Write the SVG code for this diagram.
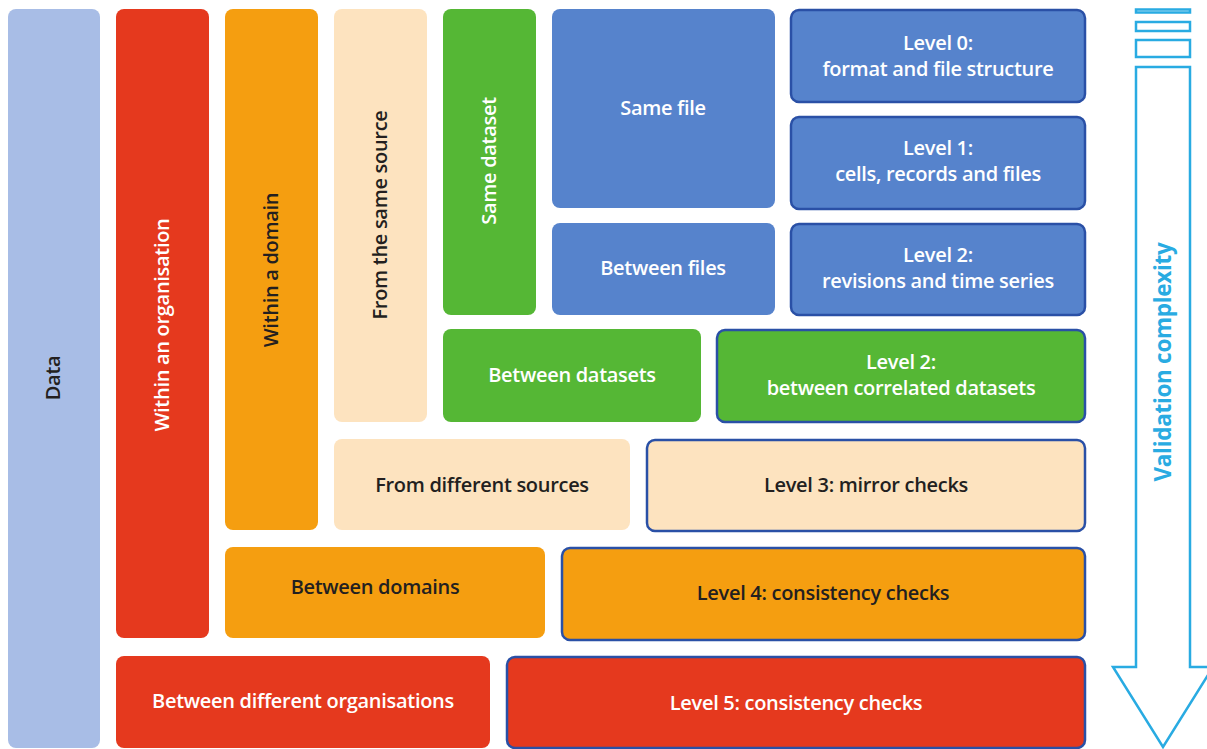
<svg xmlns="http://www.w3.org/2000/svg" width="1207" height="749" viewBox="0 0 1207 749">
<style>
.n{rx:8px;ry:8px}
.lvl{stroke:#2a50a6;stroke-width:2.5}
.data{fill:#a8bde6}.red{fill:#e5391e}.org{fill:#f59e10}.peach{fill:#fde3bf}.grn{fill:#55b735}.blu{fill:#5683cc}
text{font-family:"Open Sans","Noto Sans","Liberation Sans",sans-serif;font-weight:600;font-size:20px;text-anchor:middle;letter-spacing:-0.3px}
.w{fill:#ffffff}.d{fill:#231f20}
.vc{fill:#29abe2;font-size:22.5px;font-weight:700}
</style>
<g id="data"><rect class="n data" x="8" y="9" width="92" height="739"/><text class="d" transform="translate(60,378) rotate(-90)">Data</text></g>
<g id="within-org"><rect class="n red" x="116" y="9" width="93" height="629"/><text class="w" transform="translate(169,325) rotate(-90)">Within an organisation</text></g>
<g id="within-domain"><rect class="n org" x="225" y="9" width="93" height="521"/><text class="d" transform="translate(278,270) rotate(-90)">Within a domain</text></g>
<g id="same-source"><rect class="n peach" x="334" y="9" width="93" height="413"/><text class="d" transform="translate(387,215) rotate(-90)">From the same source</text></g>
<g id="same-dataset"><rect class="n grn" x="443" y="9" width="93" height="306"/><text class="w" transform="translate(496,161) rotate(-90)">Same dataset</text></g>
<g id="same-file"><rect class="n blu" x="552" y="9" width="223" height="199"/><text class="w" x="663" y="115">Same file</text></g>
<g id="between-files"><rect class="n blu" x="552" y="223" width="223" height="92"/><text class="w" x="663" y="275">Between files</text></g>
<g id="level0"><rect class="n blu lvl" x="791" y="10" width="294" height="92"/><text class="w" x="938" y="50">Level 0:</text><text class="w" x="938" y="76">format and file structure</text></g>
<g id="level1"><rect class="n blu lvl" x="791" y="117" width="294" height="92"/><text class="w" x="938" y="155">Level 1:</text><text class="w" x="938" y="181">cells, records and files</text></g>
<g id="level2"><rect class="n blu lvl" x="791" y="224" width="294" height="91"/><text class="w" x="938" y="262">Level 2:</text><text class="w" x="938" y="288">revisions and time series</text></g>
<g id="between-datasets"><rect class="n grn" x="443" y="329" width="258" height="93"/><text class="w" x="572" y="382">Between datasets</text></g>
<g id="level2-corr"><rect class="n grn lvl" x="717" y="330" width="368" height="92"/><text class="w" x="901" y="369">Level 2:</text><text class="w" x="901" y="395">between correlated datasets</text></g>
<g id="diff-sources"><rect class="n peach" x="334" y="439" width="296" height="91"/><text class="d" x="482" y="492">From different sources</text></g>
<g id="level3"><rect class="n peach lvl" x="647" y="440" width="438" height="91"/><text class="d" x="866" y="492">Level 3: mirror checks</text></g>
<g id="between-domains"><rect class="n org" x="225" y="547" width="320" height="91"/><text class="d" x="375" y="594">Between domains</text></g>
<g id="level4"><rect class="n org lvl" x="562" y="548" width="523" height="92"/><text class="d" x="823" y="600">Level 4: consistency checks</text></g>
<g id="between-orgs"><rect class="n red" x="116" y="656" width="374" height="92"/><text class="w" x="303" y="708">Between different organisations</text></g>
<g id="level5"><rect class="n red lvl" x="507" y="657" width="578" height="91"/><text class="w" x="796" y="710">Level 5: consistency checks</text></g>
<g id="connectors" fill="none" stroke="#29abe2" stroke-width="2.5">
<rect x="1136" y="9.5" width="54" height="3"/>
<rect x="1136" y="22" width="54" height="9"/>
<rect x="1136" y="40" width="54" height="17"/>
<path d="M1136,67 H1190 V667 H1213 L1163,747 L1113,667 H1136 Z"/>
</g>
<text class="vc" transform="translate(1171,362) rotate(-90)">Validation complexity</text>
</svg>
